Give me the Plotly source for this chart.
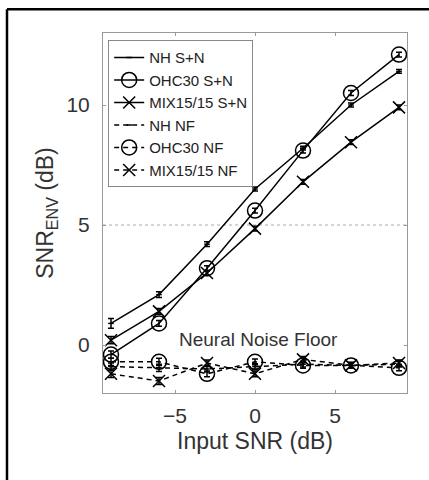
import plotly.graph_objects as go

x = [-9, -6, -3, 0, 3, 6, 9]
nh_sn = [0.9, 2.1, 4.2, 6.5, 8.2, 10.0, 11.4]
ohc_sn = [-0.4, 0.9, 3.2, 5.6, 8.1, 10.5, 12.1]
mix_sn = [0.2, 1.4, 3.0, 4.85, 6.8, 8.45, 9.9]
nh_nf = [-0.9, -0.95, -1.0, -0.9, -0.8, -0.85, -0.8]
ohc_nf = [-0.7, -0.7, -1.2, -0.7, -0.85, -0.85, -0.95]
mix_nf = [-1.2, -1.5, -0.75, -1.2, -0.6, -0.85, -0.75]
nh_sn_err = [0.2, 0.12, 0.1, 0.08, 0.08, 0.08, 0.08]
ohc_sn_err = [0.15, 0.12, 0.1, 0.1, 0.1, 0.1, 0.1]
mix_sn_err = [0.15, 0.12, 0.1, 0.1, 0.1, 0.1, 0.1]
nf_err = [0.15, 0.15, 0.12, 0.12, 0.12, 0.12, 0.12]

names = ["NH S+N", "OHC30 S+N", "MIX15/15 S+N", "NH NF", "OHC30 NF", "MIX15/15 NF"]

fig = go.Figure()

def add(y, err, name, dash, symbol, size):
    marker = dict(color="black", size=size, symbol=symbol,
                  line=dict(color="black", width=1.5))
    fig.add_trace(go.Scatter(
        x=x, y=y, name=name, mode="lines+markers",
        line=dict(color="black", width=1.5, dash=dash),
        marker=marker,
        error_y=dict(type="data", array=err, color="black", thickness=1.5, width=3),
    ))

dash_nf = "5px,4px"
add(nh_sn, nh_sn_err, names[0], "solid", "line-ew", 4)
add(ohc_sn, ohc_sn_err, names[1], "solid", "circle-open", 15)
add(mix_sn, mix_sn_err, names[2], "solid", "x-thin-open", 12)
add(nh_nf, nf_err, names[3], dash_nf, "line-ew", 4)
add(ohc_nf, nf_err, names[4], dash_nf, "circle-open", 15)
add(mix_nf, nf_err, names[5], dash_nf, "x-thin-open", 12)

axis_common = dict(showline=True, linecolor="#999999", linewidth=1, mirror="ticks",
                   ticks="inside", ticklen=3, tickcolor="#999999", showgrid=False,
                   zeroline=False, automargin=False,
                   tickfont=dict(size=21, color="#333333"))

fig.update_layout(
    width=429, height=480,
    margin=dict(l=103, r=22, t=33, b=87),
    paper_bgcolor="white", plot_bgcolor="white",
    font=dict(family="Liberation Sans, Arial, sans-serif", color="#222222"),
    xaxis=dict(range=[-9.5, 9.5], tickvals=[-5, 0, 5], ticklabelstandoff=4,
               title=dict(text="Input SNR (dB)", font=dict(size=23, color="#333333"), standoff=6),
               **axis_common),
    yaxis=dict(range=[-2, 13], tickvals=[0, 5, 10], ticklabelstandoff=8,
               title=dict(text="SNR<sub>ENV</sub> (dB)", font=dict(size=23, color="#333333"), standoff=6),
               **axis_common),
    legend=dict(x=0.017, y=0.98, xanchor="left", yanchor="top",
                bordercolor="#888888", borderwidth=1, bgcolor="white",
                font=dict(size=15, color="#222222"), tracegroupgap=0,
                itemwidth=30),
    showlegend=True,
)

fig.add_shape(type="line", xref="paper", yref="y", x0=0, x1=1, y0=5, y1=5,
              line=dict(color="#aaaaaa", width=1, dash="dot"), layer="below")

fig.add_annotation(x=0.2, y=0.25, xref="x", yref="y", text="Neural Noise Floor",
                   showarrow=False, font=dict(size=19, color="#333333"))

# outer frame (left and top edges)
fig.add_shape(type="line", xref="paper", yref="paper", x0=-0.3158, x1=-0.3158,
              y0=1.066, y1=-0.25, line=dict(color="black", width=2.5))
fig.add_shape(type="line", xref="paper", yref="paper", x0=-0.3158, x1=1.08,
              y0=1.066, y1=1.066, line=dict(color="black", width=2.5))

fig.write_html("out.html", config={"displayModeBar": False},
               post_script="document.body.style.margin='0';")
